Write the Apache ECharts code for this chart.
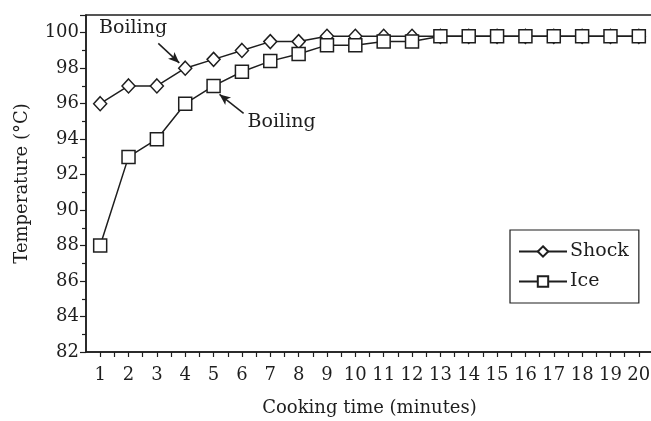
<!DOCTYPE html>
<html>
<head>
<meta charset="utf-8">
<script src="https://cdn.jsdelivr.net/npm/echarts@6/dist/echarts.min.js"></script>
<style>html,body{margin:0;padding:0;background:#fff;}#c{width:651px;height:421px;}</style>
</head>
<body>
<div id="c"></div>
<script>
var minutes = [1,2,3,4,5,6,7,8,9,10,11,12,13,14,15,16,17,18,19,20];
var shock = [96,97,97,98,98.5,99,99.5,99.5,99.8,99.8,99.8,99.8,99.8,99.8,99.8,99.8,99.8,99.8,99.8,99.8];
var ice = [88,93,94,96,97,97.8,98.4,98.8,99.3,99.3,99.5,99.5,99.8,99.8,99.8,99.8,99.8,99.8,99.8,99.8];
var annotations = [
  {text: 'Boiling', at: [2.16, 100.28], arrowFrom: [3.05, 99.4], arrowTo: [3.79, 98.3]},
  {text: 'Boiling', at: [7.40, 94.94], arrowFrom: [6.06, 95.45], arrowTo: [5.21, 96.52]}
];
var FONT = 'DejaVu Serif';
var INK = '#1e1e1e';
function pairs(ys){ return minutes.map(function(m,i){ return [m, ys[i]]; }); }
var chart = echarts.init(document.getElementById('c'));
chart.setOption({
  animation: false,
  backgroundColor: '#fff',
  grid: {left: 86, top: 15, right: -2, bottom: 69, outerBoundsMode: 'none', containLabel: false,
         show: true, borderColor: INK, borderWidth: 1.5, backgroundColor: 'transparent'},
  xAxis: {
    type: 'value', min: 0.5, max: 20.5, interval: 0.5,
    name: 'Cooking time (minutes)', nameLocation: 'middle', nameGap: 47,
    nameTextStyle: {fontFamily: FONT, fontSize: 18, color: INK},
    axisLine: {lineStyle: {color: INK, width: 1.5}},
    axisTick: {show: true, length: 5, inside: false, lineStyle: {color: INK, width: 1.2}},
    splitLine: {show: false},
    axisLabel: {
      fontFamily: FONT, fontSize: 18, color: INK, margin: 14,
      formatter: function(v){ return (Math.abs(v - Math.round(v)) < 1e-6 && v >= 1 && v <= 20) ? String(Math.round(v)) : ''; },
      showMinLabel: false, showMaxLabel: false
    }
  },
  yAxis: {
    type: 'value', min: 82, max: 101, interval: 2,
    name: 'Temperature (°C)', nameLocation: 'middle', nameGap: 55, nameRotate: 90,
    nameTextStyle: {fontFamily: FONT, fontSize: 18, color: INK},
    axisLine: {show: true, lineStyle: {color: INK, width: 1.5}},
    axisTick: {show: true, length: 6, lineStyle: {color: INK, width: 1.2}},
    minorTick: {show: true, splitNumber: 2, length: 4, lineStyle: {color: INK, width: 1.2}},
    splitLine: {show: false},
    axisLabel: {fontFamily: FONT, fontSize: 18, color: INK, margin: 7, showMaxLabel: false}
  },
  legend: {
    orient: 'vertical', left: 510, top: 230,
    data: ['Shock', 'Ice'],
    borderColor: INK, borderWidth: 1.2, padding: [12, 10, 12, 8], itemGap: 11,
    itemWidth: 48, itemHeight: 13,
    textStyle: {fontFamily: FONT, fontSize: 19, color: INK, padding: [0,0,0,-2]}
  },
  series: [
    {
      name: 'Shock', type: 'line', data: pairs(shock),
      symbol: 'diamond', symbolSize: [13, 14], showAllSymbol: true,
      lineStyle: {color: INK, width: 1.5},
      itemStyle: {color: '#fff', borderColor: INK, borderWidth: 1.5},
      markPoint: {
        symbol: 'circle', symbolSize: 0, silent: true,
        label: {show: true, position: 'inside', fontFamily: FONT, fontSize: 19, color: INK, formatter: '{b}'},
        data: annotations.map(function(a){ return {name: a.text, coord: a.at}; })
      },
      markLine: {
        silent: true, symbol: ['none', 'arrow'], symbolSize: [7, 11],
        label: {show: false},
        lineStyle: {color: INK, width: 1.5, type: 'solid'},
        data: annotations.map(function(a){ return [{coord: a.arrowFrom}, {coord: a.arrowTo}]; })
      },
      z: 2
    },
    {
      name: 'Ice', type: 'line', data: pairs(ice),
      symbol: 'rect', symbolSize: 13, showAllSymbol: true,
      lineStyle: {color: INK, width: 1.5},
      itemStyle: {color: '#fff', borderColor: INK, borderWidth: 1.5},
      z: 3
    }
  ]
});
</script>
</body>
</html>
